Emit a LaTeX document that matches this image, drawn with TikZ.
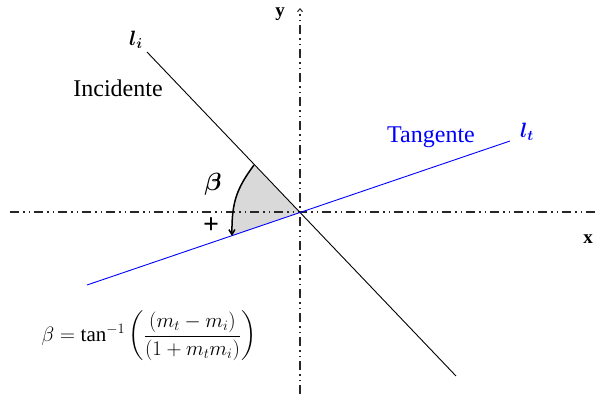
\documentclass[tikz,border=0pt]{standalone}
\usepackage{amsmath,bm}
\usepackage{fontspec}
\setmainfont{Liberation Serif}
\usetikzlibrary{arrows.meta}
\definecolor{tblue}{RGB}{0,0,255}
\definecolor{shadegray}{RGB}{217,217,217}
\begin{document}
\begin{tikzpicture}[x=1pt,y=-1pt,
  axisline/.style={line width=1.2pt, black!85, dash pattern=on 9pt off 4pt on 1.5pt off 4pt on 1.5pt off 4pt},
  lbl/.style={inner sep=0pt, font=\fontsize{24}{28}\selectfont},
  axlbl/.style={inner sep=0pt, font=\fontsize{19}{22}\selectfont\bfseries},
  mlbl/.style={inner sep=0pt, font=\fontsize{22}{26}\selectfont}]
\useasboundingbox (0,0) rectangle (600,394);
% coordinates
\coordinate (O) at (300,212);
\coordinate (xs) at (10,212);
\coordinate (xe) at (598,212);
\coordinate (ys) at (300,394);
\coordinate (ye) at (300,8);
\coordinate (ia) at (147,52);
\coordinate (ib) at (456,376);
\coordinate (ta) at (87,285);
\coordinate (tb) at (510,141);
\coordinate (P1) at (254,165);
\coordinate (P2) at (232,236);
% shaded angle
\fill[shadegray] (O) -- (P1) .. controls (237,188) and (231.5,202) .. (P2) -- cycle;
% axes
\draw[axisline] (xs) -- (xe);
\draw[axisline, -{Straight Barb[length=3pt,width=5pt,line width=1pt]}] (ys) -- (ye);
% lines
\draw[black, line width=0.9pt] (ia) -- (ib);
\draw[tblue, line width=0.9pt] (ta) -- (tb);
% angle arrow
\draw[line width=1.5pt, -{Straight Barb[length=5pt,width=6pt,line width=1.5pt]}] (P1) .. controls (237,188) and (231.5,202) .. (P2);
% labels
\node[axlbl] (ylab) at (280,14) {y};
\node[axlbl] (xlab) at (588,239) {x};
\node[mlbl] (li) at (136,40) {$\bm{l_i}$};
\node[mlbl, text=tblue] (lt) at (527,132) {$\bm{l_t}$};
\node[lbl] (inc) at (118,88) {Incidente};
\node[lbl, text=tblue] (tan) at (431,137) {Tangente};
\node[mlbl, font=\fontsize{23}{26}\selectfont] (beta) at (213,184) {$\bm{\beta}$};
\node[inner sep=0pt, font=\fontsize{28}{30}\selectfont\bfseries] (plus) at (211,226) {+};
\node[inner sep=0pt, font=\fontsize{21}{25}\selectfont] (form) at (149,336)
  {$\beta = \tan^{-1}\left(\dfrac{(m_t - m_i)}{(1 + m_t m_i)}\right)$};
\end{tikzpicture}
\end{document}
